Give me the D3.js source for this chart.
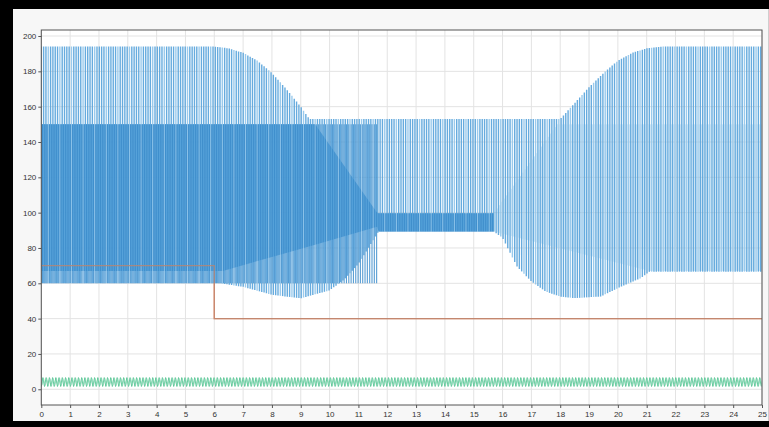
<!DOCTYPE html>
<html><head><meta charset="utf-8">
<script src="https://cdn.jsdelivr.net/npm/d3@7"></script>
<style>html,body{margin:0;padding:0;background:#000;}svg{display:block;}</style>
</head><body>
<svg id="chart" width="769" height="427"></svg>
<script>
// ---------- data ----------
const xTicks = d3.range(0, 26, 1);
const yTicks = [0, 20, 40, 60, 80, 100, 120, 140, 160, 180, 200];

// orange reference step
const refT = [0, 6, 6, 25];
const refV = [70, 70, 40, 40];

// light blue spikes: upper envelope
const topT = [0, 6, 6.5, 7, 7.5, 8, 8.5, 9, 9.3, 18, 18.5, 19, 19.5, 20, 20.5, 21, 21.5, 25];
const topV = [194, 194, 193, 190.5, 186, 179, 170, 160, 153, 153, 162, 171, 179, 186, 190.5, 193, 194, 194];
// light blue spikes: lower envelope
const botT = [0, 6.2, 7, 8, 9, 10, 10.5, 11, 11.5, 11.7, 15.7, 16, 16.5, 17, 17.5, 18, 18.5, 19.4, 20.1, 20.8, 21.1, 25];
const botV = [60, 60, 58, 53.5, 51.5, 56, 62, 71, 84, 89.3, 89.3, 85.7, 69.5, 61, 55.3, 52.5, 51.6, 52.5, 58, 63, 66.6, 66.6];

// mid blue spikes
const midHiT = [0, 11.65, 11.7, 15.7, 17.9, 25];
const midHiV = [150, 150, 99.7, 99.7, 150, 150];
const midLoT = [0, 11.65, 11.7, 15.7, 21.1, 25];
const midLoV = [60, 60, 89.3, 89.3, 67, 67];

// dense dark band
const bandT  = [0, 6.3, 9.5, 11.65, 11.7, 15.7];
const bandLo = [67, 67, 81.8, 92, 89.3, 89.3];
const bandHi = [150, 150, 150, 100, 99.7, 99.7];

// green ripple (alternating extremes)
const greenHi = 6.6, greenLo = 1.6;

// ---------- layout ----------
const svg = d3.select("#chart");
const W = 769, H = 427;
const L = 41.3, R = 762, T = 30, B = 405;

svg.append("rect").attr("width", W).attr("height", H).attr("fill", "#000");
svg.append("rect").attr("x", 13).attr("y", 9).attr("width", W - 13).attr("height", 412).attr("fill", "#f7f7f7");
svg.append("line").attr("x1", 768.5).attr("x2", 768.5).attr("y1", 9).attr("y2", 421).attr("stroke", "#cfcfcf");

const x = d3.scaleLinear().domain([0, 25]).range([L, R]);
const y = d3.scaleLinear().domain([-8.9, 203.4]).range([B, T]);

svg.append("rect").attr("x", L).attr("y", T).attr("width", R - L).attr("height", B - T).attr("fill", "#fff");

// grid
const grid = svg.append("g");
grid.selectAll("line.vx").data(xTicks).join("line")
  .attr("x1", d => x(d)).attr("x2", d => x(d)).attr("y1", T).attr("y2", B)
  .attr("stroke", "#e3e3e3").attr("stroke-width", 1);
grid.selectAll("line.hy").data(yTicks).join("line")
  .attr("x1", L).attr("x2", R).attr("y1", d => y(d)).attr("y2", d => y(d))
  .attr("stroke", "#e3e3e3").attr("stroke-width", 1);

svg.append("defs").append("clipPath").attr("id", "clip")
  .append("rect").attr("x", L).attr("y", T).attr("width", R - L).attr("height", B - T);
const plot = svg.append("g").attr("clip-path", "url(#clip)");

const refLine = d3.line().x((d, i) => x(refT[i])).y(d => y(d));
// orange reference
plot.append("path").attr("d", refLine(refV))
  .attr("fill", "none").attr("stroke", "#ec8a64").attr("stroke-width", 1.3);

// green ripple
const gStep = 0.056;
const gT = d3.range(0, 25.0001, gStep);
const gLine = d3.line().x(d => x(d[0])).y(d => y(d[1]));
plot.append("path")
  .attr("d", gLine(gT.map((t, i) => [t, i % 2 ? greenHi : greenLo])))
  .attr("fill", "none").attr("stroke", "#5cc596").attr("stroke-width", 1);
plot.append("path")
  .attr("d", gLine(gT.map((t, i) => [t + 0.02, i % 2 ? greenHi - 0.5 : greenLo + 0.6])))
  .attr("fill", "none").attr("stroke", "#8ad9b6").attr("stroke-width", 0.8);

// envelope scales
const topS = d3.scaleLinear().domain(topT).range(topV);
const botS = d3.scaleLinear().domain(botT).range(botV);
const midHiS = d3.scaleLinear().domain(midHiT).range(midHiV);
const midLoS = d3.scaleLinear().domain(midLoT).range(midLoV);

// dense band
plot.append("path")
  .attr("d", d3.area().x((d, i) => x(bandT[i])).y0((d, i) => y(bandLo[i])).y1(d => y(d))(bandHi))
  .attr("fill", "#3f8fcd").attr("fill-opacity", 0.85);

// light spikes
const dt = 0.0805;
const spT = d3.range(0, 25.0001, dt);
plot.append("g").selectAll("line").data(spT).join("line")
  .attr("x1", t => x(t)).attr("x2", t => x(t))
  .attr("y1", t => y(botS(t))).attr("y2", t => y(topS(t)))
  .attr("stroke", (t, i) => (i % 5 === 3 ? "#8fc4ea" : "#55a2da"))
  .attr("stroke-width", 1.4).attr("stroke-opacity", 0.9);

// mid spikes
const mT = spT.map(t => t + dt / 2).filter(t => t < 25);
plot.append("g").selectAll("line").data(mT).join("line")
  .attr("x1", t => x(t)).attr("x2", t => x(t))
  .attr("y1", t => y(midLoS(t))).attr("y2", t => y(midHiS(t)))
  .attr("stroke", t => (t < 15.7 ? "#3b8ccb" : "#8cc2e8"))
  .attr("stroke-width", t => (t < 15.7 ? 1.1 : 0.8))
  .attr("stroke-opacity", t => (t < 15.7 ? 0.85 : 0.5));

// orange shows through the blue traces
plot.append("path").attr("d", refLine(refV))
  .attr("fill", "none").attr("stroke", "#b98672").attr("stroke-width", 1.2).attr("stroke-opacity", 0.8);

// frame
svg.append("rect").attr("x", L).attr("y", T).attr("width", R - L).attr("height", B - T)
  .attr("fill", "none").attr("stroke", "#555").attr("stroke-width", 1);

// axes
const font = "'Liberation Sans', Arial, sans-serif";
const ax = svg.append("g").attr("transform", `translate(0,${B})`)
  .call(d3.axisBottom(x).tickValues(xTicks).tickSize(3).tickPadding(3).tickFormat(d3.format("d")));
const ay = svg.append("g").attr("transform", `translate(${L},0)`)
  .call(d3.axisLeft(y).tickValues(yTicks).tickSize(3).tickPadding(2).tickFormat(d3.format("d")));
[ax, ay].forEach(a => {
  a.select(".domain").remove();
  a.selectAll(".tick line").attr("stroke", "#555");
  a.selectAll("text").attr("fill", "#333").style("font-family", font).style("font-size", "8px");
});
</script>
</body></html>
